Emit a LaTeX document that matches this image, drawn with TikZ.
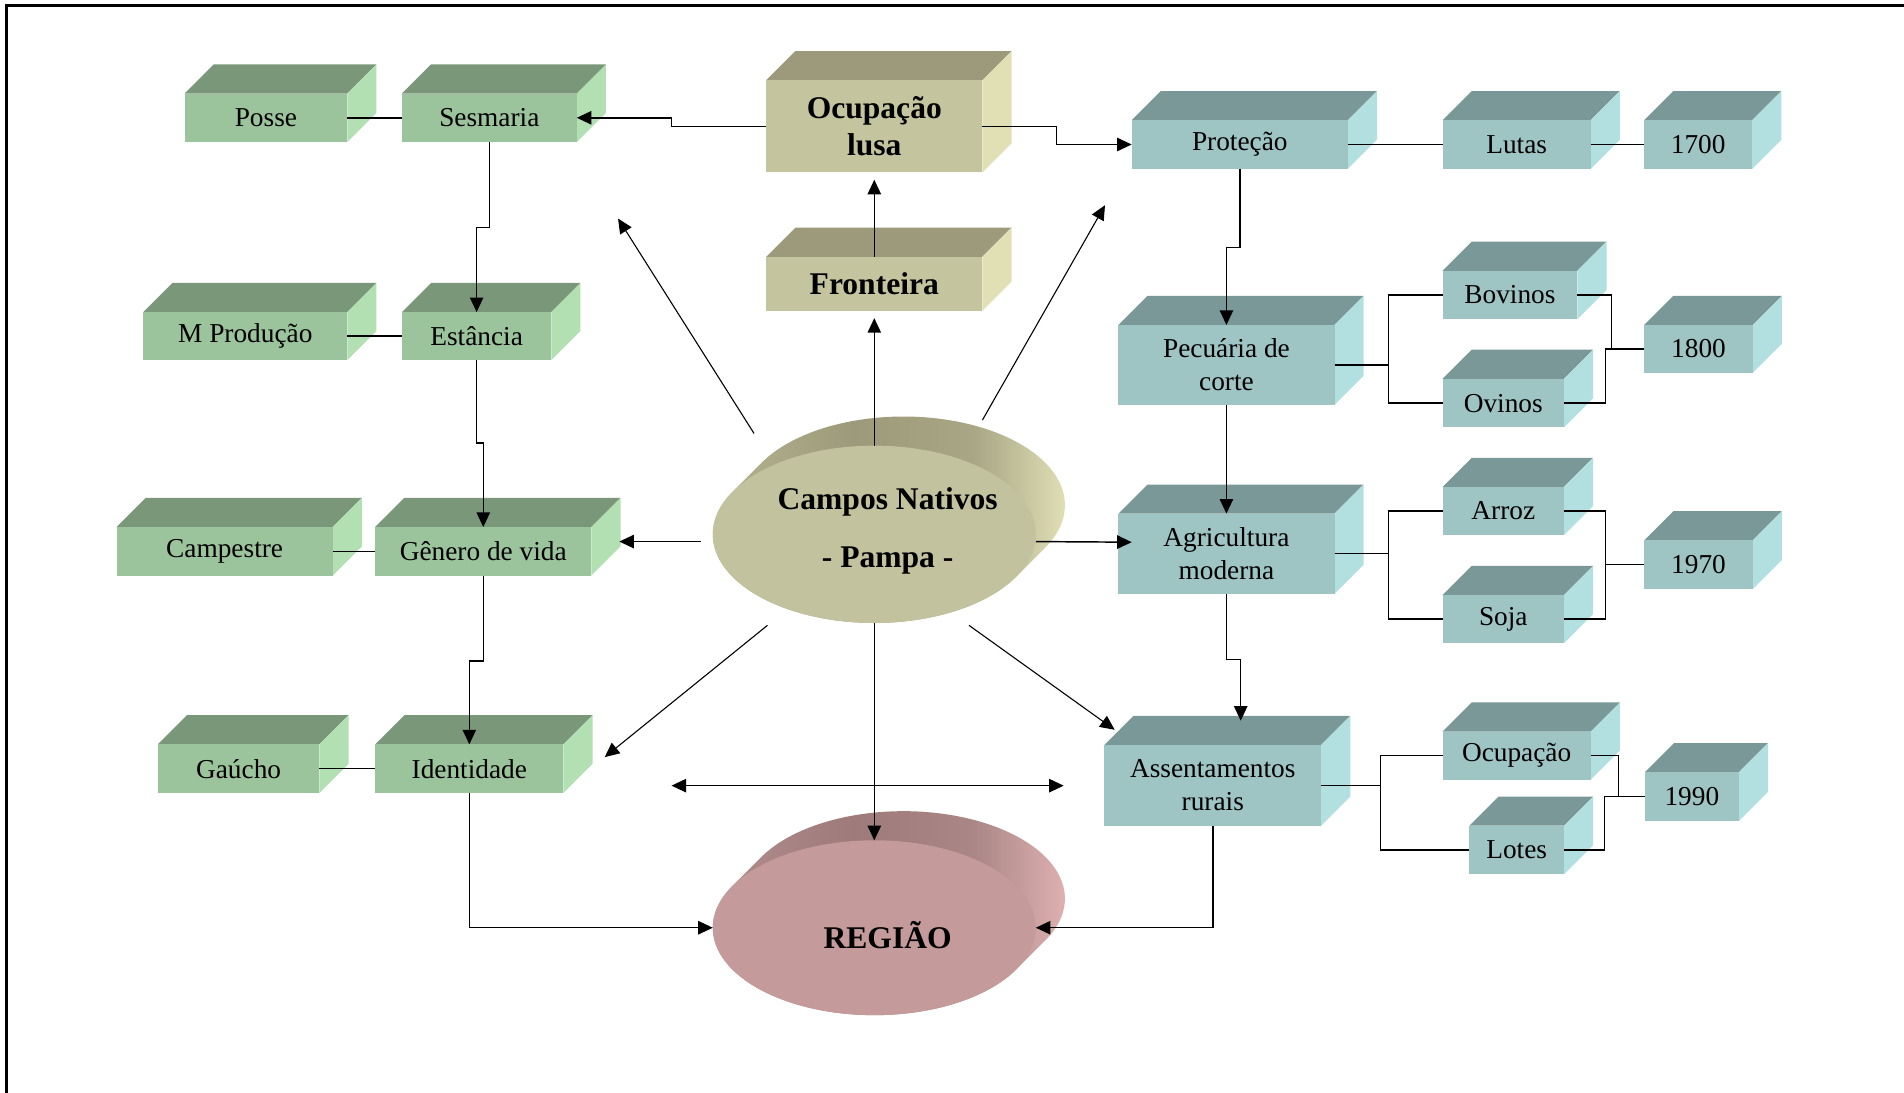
\documentclass[tikz,border=0pt]{standalone}
\usepackage{fontspec}
\setmainfont{Liberation Serif}
\usetikzlibrary{shapes.geometric,arrows.meta,calc}

\definecolor{gfront}{HTML}{9CC49C}
\definecolor{gtop}{HTML}{7A977A}
\definecolor{gside}{HTML}{B2E0B2}
\definecolor{tfront}{HTML}{9EC4C4}
\definecolor{ttop}{HTML}{7A9898}
\definecolor{tside}{HTML}{B2E0E0}
\definecolor{ofront}{HTML}{C4C49E}
\definecolor{otop}{HTML}{9C9A7A}
\definecolor{oside}{HTML}{E0E0B4}
\definecolor{efront}{HTML}{C2C29E}
\definecolor{eA}{HTML}{B6B490}
\definecolor{eB}{HTML}{9C9A7A}
\definecolor{eC}{HTML}{A8A684}
\definecolor{eD}{HTML}{E0DEB4}
\definecolor{rfront}{HTML}{C49A9A}
\definecolor{rA}{HTML}{B48E8E}
\definecolor{rB}{HTML}{9E7A7A}
\definecolor{rC}{HTML}{AA8686}
\definecolor{rD}{HTML}{DEB0B0}

\pgfdeclarehorizontalshading{oext}{100bp}{color(0bp)=(eA); color(25bp)=(eA); color(45bp)=(eB); color(62bp)=(eC); color(75bp)=(eD); color(100bp)=(eD)}
\pgfdeclarehorizontalshading{rext}{100bp}{color(0bp)=(rA); color(25bp)=(rA); color(45bp)=(rB); color(62bp)=(rC); color(75bp)=(rD); color(100bp)=(rD)}

\tikzset{
  box/.style={inner sep=0pt, outer sep=0pt, align=center, text=black,
    font=\fontsize{22.5}{27}\selectfont},
  boldtxt/.style={font=\fontsize{26}{31}\selectfont\bfseries},
  arr/.style={-{Triangle[length=12pt,width=11pt]}},
  arrboth/.style={{Triangle[length=12pt,width=11pt]}-{Triangle[length=12pt,width=11pt]}},
  disc/.style={ellipse, inner sep=0pt, outer sep=0pt, draw=none},
}

% #1 style, #2 palette, #3 name, #4 x1, #5 y1, #6 x2, #7 y2, #8 text
\newcommand\cubebox[8][]{%
  \fill[#2top] (#4,#5) -- ++(24,-24) -- ({#6+24},{#5-24}) -- (#6,#5) -- cycle;
  \fill[#2side] (#6,#5) -- ({#6+24},{#5-24}) -- ({#6+24},{#7-24}) -- (#6,#7) -- cycle;
  \node[box, fill=#2front, minimum width={#6pt-#4pt}, minimum height={#7pt-#5pt}, #1]
    (#3) at ({(#4+#6)/2},{(#5+#7)/2}) {#8};
}

\begin{document}
\begin{tikzpicture}[x=1pt, y=-1pt, line width=1.2pt]
\fill[white] (0,0) rectangle (1568,900.1);
\useasboundingbox (0,0) rectangle (1568,900.1);
\draw[line width=2pt] (5.5,900.1) -- (5.5,4.5) -- (1568,4.5);

% ---- green column ----
\cubebox{g}{posse}{152}{77}{286}{117}{Posse}
\cubebox{g}{sesm}{331}{77}{475}{117}{Sesmaria}
\cubebox{g}{mprod}{118}{257}{286}{296.5}{M Produção}
\cubebox{g}{estan}{331}{257}{454}{296.5}{Estância}
\cubebox{g}{campe}{96}{434}{274}{474}{Campestre}
\cubebox{g}{genero}{309}{434}{487}{474}{Gênero de vida}
\cubebox{g}{gaucho}{130}{613}{263}{653}{Gaúcho}
\cubebox{g}{ident}{309}{613}{464}{653}{Identidade}

% ---- olive ----
\cubebox[boldtxt]{o}{ocup}{631}{66}{809}{142}{Ocupação\\lusa}
\cubebox[boldtxt]{o}{front}{631}{211.5}{809}{256}{Fronteira}

% ---- teal ----
\cubebox{t}{prot}{932}{99}{1110}{139}{Proteção}
\cubebox{t}{lutas}{1188}{99}{1310}{139}{Lutas}
\cubebox{t}{ya}{1354}{99}{1443}{139}{1700}
\cubebox{t}{pec}{921}{267.6}{1099}{333.5}{Pecuária de\\corte}
\cubebox{t}{bov}{1188}{223}{1299}{263}{Bovinos}
\cubebox{t}{ovi}{1188}{312}{1288}{352}{Ovinos}
\cubebox{t}{yb}{1354}{267.6}{1443.5}{307}{1800}
\cubebox{t}{agri}{921}{423}{1099}{489}{Agricultura\\moderna}
\cubebox{t}{arroz}{1188}{401}{1288}{440.6}{Arroz}
\cubebox{t}{soja}{1188}{490}{1288}{529.6}{Soja}
\cubebox{t}{yc}{1354}{445}{1443.5}{485}{1970}
\cubebox{t}{assent}{909.5}{613.5}{1088}{680}{Assentamentos\\rurais}
\cubebox{t}{ocupb}{1188}{602.5}{1310}{642}{Ocupação}
\cubebox{t}{lotes}{1210}{680}{1288}{720}{Lotes}
\cubebox{t}{yd}{1354.6}{636}{1432}{676}{1990}

% ---- Campos Nativos disc ----
\shade[shading=oext]
  plot[domain=151.24:331.24, samples=72] ({720+133*cos(\x)},{440-73*sin(\x)})
  -- plot[domain=-28.76:151.24, samples=72] ({744+133*cos(\x)},{416-73*sin(\x)}) -- cycle;
\node[disc, fill=efront, minimum width=266pt, minimum height=146pt] (campos) at (720,440) {};
\node[boldtxt, align=center, inner sep=0pt] (campostxt) at (731,437) {Campos Nativos\\[17pt]- Pampa -};

% ---- REGIÃO disc ----
\shade[shading=rext]
  plot[domain=151.57:331.57, samples=72] ({720+133*cos(\x)},{764-72*sin(\x)})
  -- plot[domain=-28.43:151.57, samples=72] ({744+133*cos(\x)},{740-72*sin(\x)}) -- cycle;
\node[disc, fill=rfront, minimum width=266pt, minimum height=144pt] (regiao) at (720,764) {};
\node[boldtxt, inner sep=0pt] (regiaotxt) at (731,770) {REGIÃO};

% ---- free ends ----
\coordinate (ul) at (509,180);
\coordinate (ur) at (910,169);
\coordinate (ll) at (498,623.5);
\coordinate (lr) at (918,601);
\coordinate (dl) at (553,647);
\coordinate (dr) at (876,647);

% ---- plain links ----
\draw (posse.east) -- (sesm.west);
\draw (mprod.east) -- (estan.west);
\draw (campe.east) -- (genero.west);
\draw (gaucho.east) -- (ident.west);
\draw (prot.east) -- (lutas.west);
\draw (lutas.east) -- (ya.west);

% ---- arrows, top ----
\draw[arr] (ocup.west) -- ++(-78,0) |- (sesm.east);
\draw[arr] (ocup.east) -- ++(61,0) |- (prot.west);
\draw[arr, shorten >=6pt] (front.north) -- (ocup.south);
\draw[arr, shorten >=6pt] (campos.north) -- (front.south);

% ---- left chain ----
\draw[arr] (sesm.south) -- ++(0,70.5) -| (estan.north);
\draw[arr] (estan.south) -- ++(0,68.5) -| (genero.north);
\draw[arr] (genero.south) -- ++(0,70.5) -| (ident.north);
\draw[arr] (ident.south) |- (regiao.west);

% ---- from Campos ----
\draw[arr] ([shift={(-10,6)}]campos.west) -- ([shift={(23,-8)}]genero.east);
\draw[arr] ([shift={(0,6)}]campos.east) -- ([shift={(11,-9.5)}]agri.west);
\draw[arr, line width=0.9pt] ([shift={(-99,-83)}]campos.center) -- (ul);
\draw[arr, line width=0.9pt] ([shift={(89,-94)}]campos.center) -- (ur);
\draw[arr, line width=0.9pt] ([shift={(-88,75)}]campos.center) -- (ll);
\draw[arr, line width=0.9pt] ([shift={(78,75)}]campos.center) -- (lr);
\draw[arrboth] (dl) -- (dr);
\draw[arr] (campos.south) -- (regiao.north);

% ---- right chain ----
\draw[arr] (prot.south) -- ++(0,65) -| (pec.north);
\draw[arr] (pec.south) -- (agri.north);
\draw[arr] (agri.south) -- ++(0,54) -| ([shift={(23,-20)}]assent.north);
\draw[arr] (assent.south) |- (regiao.east);

% ---- brackets ----
\draw (pec.east) -- ++(44.5,0) |- (bov.west);
\draw (pec.east) -- ++(44.5,0) |- (ovi.west);
\draw (bov.east) -- ++(28,0) |- (yb.west);
\draw (ovi.east) -- ++(34,0) |- (yb.west);
\draw (agri.east) -- ++(44.5,0) |- (arroz.west);
\draw (agri.east) -- ++(44.5,0) |- (soja.west);
\draw (arroz.east) -- ++(34,0) |- (yc.west);
\draw (soja.east) -- ++(34,0) |- (yc.west);
\draw (assent.east) -- ++(49,0) |- (ocupb.west);
\draw (assent.east) -- ++(49,0) |- (lotes.west);
\draw (ocupb.east) -- ++(23,0) |- (yd.west);
\draw (lotes.east) -- ++(33.5,0) |- (yd.west);
\end{tikzpicture}
\end{document}
